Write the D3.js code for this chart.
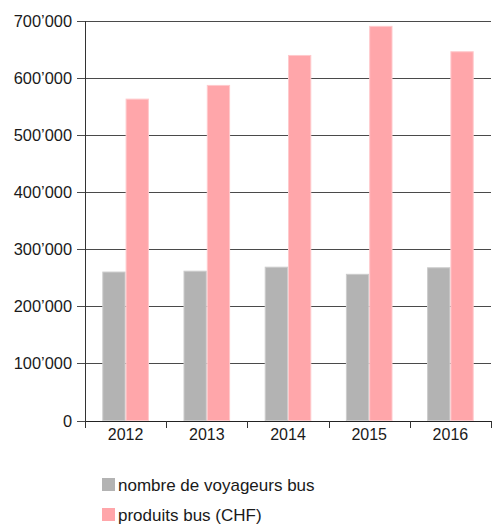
<!DOCTYPE html>
<html>
<head>
<meta charset="utf-8">
<script src="https://cdn.jsdelivr.net/npm/d3@7"></script>
<style>
html,body{margin:0;padding:0;background:#fff;}
svg{display:block;font-family:"Liberation Sans",Arial,Helvetica,sans-serif;}
</style>
</head>
<body>
<svg id="chart" width="492" height="526"></svg>
<script>
const years = ["2012","2013","2014","2015","2016"];
const seriesNames = ["nombre de voyageurs bus","produits bus (CHF)"];
const voyageurs = [261000, 262500, 269500, 257000, 268500];
const produits = [564000, 588000, 640500, 691500, 647000];
const yTicks = [0,100000,200000,300000,400000,500000,600000,700000];
const colors = ["#b3b3b3","#ffa6aa"];
const strokes = ["#cccccc","#ffc9cc"];

(function () {
const svg = d3.select("#chart");
const pLeft = 85, pRight = 491, pTop = 21, pBottom = 420.5;

const x = d3.scaleBand().domain(years).range([pLeft, pRight]).padding(0);
const xSub = d3.scaleBand().domain([0,1]).range([17.3, x.bandwidth()-17.3]).padding(0);
const y = d3.scaleLinear().domain([0,700000]).range([pBottom, pTop]);

const fmt = v => v === 0 ? "0" : d3.format(",")(v).replace(/,/g, "\u2019");

// gridlines
svg.append("g").selectAll("line").data(yTicks).join("line")
  .attr("x1", pLeft - 8).attr("x2", pRight)
  .attr("y1", d => Math.round(y(d)) + 0.5).attr("y2", d => Math.round(y(d)) + 0.5)
  .attr("stroke", "#4a4a4a").attr("stroke-width", 1);

// y labels
svg.append("g").selectAll("text").data(yTicks).join("text")
  .attr("x", 72).attr("y", d => Math.round(y(d)) + 0.5)
  .attr("dy", "0.36em").attr("text-anchor", "end")
  .attr("font-size", 16.4).attr("fill", "#1a1a1a")
  .text(fmt);

// bars
const data = years.map((yr, i) => ({yr, vals: [voyageurs[i], produits[i]]}));
const g = svg.append("g").selectAll("g").data(data).join("g")
  .attr("transform", d => `translate(${x(d.yr)},0)`);
g.selectAll("rect").data(d => d.vals.map((v, k) => ({v, k}))).join("rect")
  .attr("x", d => xSub(d.k) + 0.5)
  .attr("width", xSub.bandwidth() - 1)
  .attr("y", d => y(d.v) + 0.5)
  .attr("height", d => pBottom - y(d.v) - 0.5)
  .attr("fill", d => colors[d.k])
  .attr("stroke", d => strokes[d.k]).attr("stroke-width", 1);

// y axis line
svg.append("line").attr("x1", pLeft + 0.5).attr("x2", pLeft + 0.5)
  .attr("y1", pTop).attr("y2", 428).attr("stroke", "#333").attr("stroke-width", 1);

// x axis line
svg.append("line").attr("x1", pLeft).attr("x2", pRight)
  .attr("y1", Math.round(pBottom) + 0.5).attr("y2", Math.round(pBottom) + 0.5)
  .attr("stroke", "#222").attr("stroke-width", 1.2);

// x ticks at band edges
const edges = years.map(yr => x(yr)).concat([pRight]);
svg.append("g").selectAll("line").data(edges).join("line")
  .attr("x1", d => Math.round(d) + 0.5).attr("x2", d => Math.round(d) + 0.5)
  .attr("y1", Math.round(pBottom)).attr("y2", 428)
  .attr("stroke", "#333").attr("stroke-width", 1);

// x labels
svg.append("g").selectAll("text").data(years).join("text")
  .attr("x", d => x(d) + x.bandwidth()/2).attr("y", 440)
  .attr("text-anchor", "middle").attr("font-size", 16).attr("fill", "#1a1a1a")
  .text(d => d);

// legend
const leg = svg.append("g").selectAll("g").data(seriesNames).join("g")
  .attr("transform", (d, i) => `translate(102,${478 + i*30})`);
leg.append("rect").attr("width", 13).attr("height", 13).attr("fill", (d, i) => colors[i]);
leg.append("text").attr("x", 16).attr("y", 13).attr("font-size", 17).attr("fill", "#1a1a1a")
  .text(d => d);
})();
</script>
</body>
</html>
